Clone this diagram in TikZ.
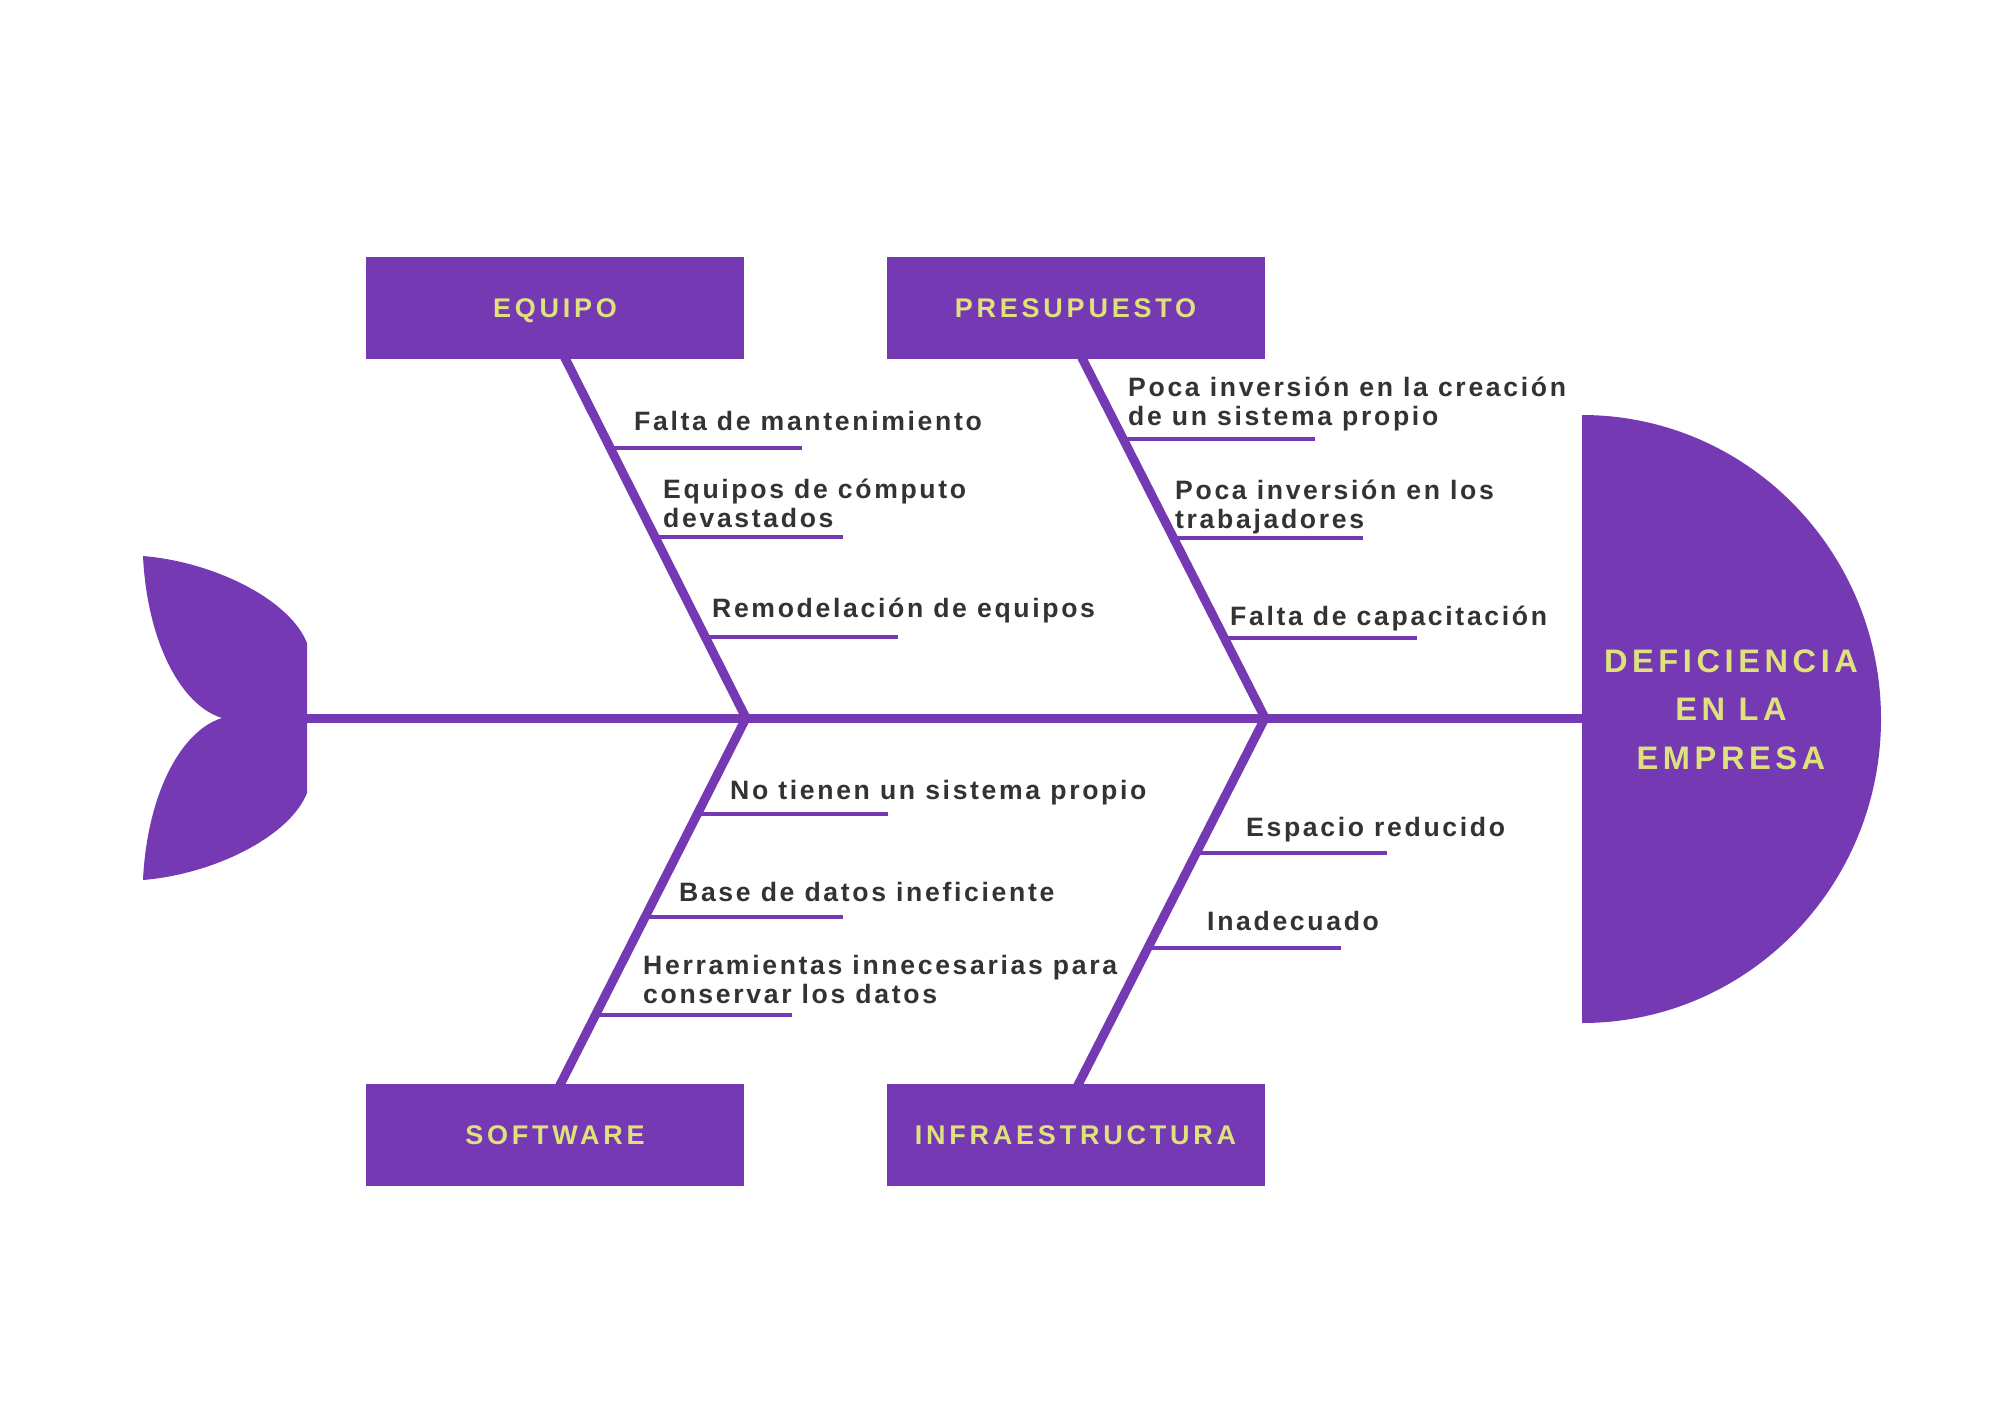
\documentclass[tikz,border=0pt]{standalone}
\usepackage{fontspec}
\setmainfont{Liberation Sans}
\newfontfamily\causefont[LetterSpace=10]{Liberation Sans}
\newfontfamily\catfont[LetterSpace=14]{Liberation Sans}
\definecolor{fishpurple}{RGB}{118,57,180}
\definecolor{labelyellow}{RGB}{223,226,124}
\definecolor{causegray}{RGB}{51,51,51}
\begin{document}
\begin{tikzpicture}[x=1pt,y=-1pt,
  bone/.style={draw=fishpurple,line width=9pt,line join=miter},
  twig/.style={draw=fishpurple,line width=3.5pt},
  catbox/.style={fill=fishpurple,minimum width=378pt,minimum height=102pt,inner sep=0pt,
    text=labelyellow,font=\catfont\bfseries\fontsize{27}{30}\selectfont,text height=19.3pt,text depth=0pt},
  cause/.style={anchor=base west,inner sep=0pt,text=causegray,
    font=\causefont\bfseries\fontsize{26.6}{29}\selectfont},
  headtext/.style={anchor=base,inner sep=0pt,text=labelyellow,
    font=\catfont\bfseries\fontsize{32.6}{48.5}\selectfont}
]
\fill[white] (0,0) rectangle (2000,1414);
\useasboundingbox (0,0) rectangle (2000,1414);

% key coordinates
\coordinate (tailR) at (300,718);
\coordinate (headL) at (1582,718);
\coordinate (j1) at (746,718);
\coordinate (j2) at (1265,718);
\coordinate (b1) at (565,358);
\coordinate (b2) at (1082,358);
\coordinate (b3) at (561,1083);
\coordinate (b4) at (1079,1083);

% tail
\fill[fishpurple] (143,556) .. controls (215,562) and (290,600) .. (307,643) -- (307,793)
  .. controls (290,836) and (215,874) .. (143,880)
  .. controls (147,796) and (180,731) .. (222,718)
  .. controls (180,705) and (147,640) .. (143,556) -- cycle;

% head
\fill[fishpurple] (1582,415) .. controls (1747,415) and (1881,551) .. (1881,719)
  .. controls (1881,887) and (1747,1023) .. (1582,1023) -- cycle;

% spine
\draw[bone] (tailR) -- (headL);

% bones
\draw[bone,shorten <=-15pt,shorten >=-15pt] (b1) -- (j1) -- (b3);
\draw[bone,shorten <=-15pt,shorten >=-15pt] (b2) -- (j2) -- (b4);

% category boxes
\node[catbox] (equipo) at (555,308) {EQUIPO};
\node[catbox] (presupuesto) at (1075.5,308) {PRESUPUESTO};
\node[catbox] (software) at (555,1135) {SOFTWARE};
\node[catbox] (infra) at (1075.5,1135) {INFRAESTRUCTURA};

% head text
\node[headtext] (efecto) at (1731,672) {\begin{tabular}[t]{@{}c@{}}DEFICIENCIA\\EN LA\\EMPRESA\end{tabular}};

% EQUIPO causes
\draw[twig] (612,448) -- (802,448);
\node[cause] (e1) at (634,430) {Falta de mantenimiento};
\draw[twig] (655,537) -- (843,537);
\node[cause] (e2) at (663,527) {\begin{tabular}[b]{@{}l@{}}Equipos de cómputo\\devastados\end{tabular}};
\draw[twig] (705,637) -- (898,637);
\node[cause] (e3) at (712,617) {Remodelación de equipos};

% PRESUPUESTO causes
\draw[twig] (1123,439) -- (1315,439);
\node[cause] (p1) at (1128,425) {\begin{tabular}[b]{@{}l@{}}Poca inversión en la creación\\de un sistema propio\end{tabular}};
\draw[twig] (1173,538) -- (1363,538);
\node[cause] (p2) at (1175,528) {\begin{tabular}[b]{@{}l@{}}Poca inversión en los\\trabajadores\end{tabular}};
\draw[twig] (1224,638) -- (1417,638);
\node[cause] (p3) at (1230,625) {Falta de capacitación};

% SOFTWARE causes
\draw[twig] (697,814) -- (888,814);
\node[cause] (s1) at (730,799) {No tienen un sistema propio};
\draw[twig] (645,917) -- (843,917);
\node[cause] (s2) at (679,901) {Base de datos ineficiente};
\draw[twig] (595,1015) -- (792,1015);
\node[cause] (s3) at (643,1003) {\begin{tabular}[b]{@{}l@{}}Herramientas innecesarias para\\conservar los datos\end{tabular}};

% INFRAESTRUCTURA causes
\draw[twig] (1196,853) -- (1387,853);
\node[cause] (i1) at (1246,836) {Espacio reducido};
\draw[twig] (1148,948) -- (1341,948);
\node[cause] (i2) at (1207,930) {Inadecuado};
\end{tikzpicture}
\end{document}
